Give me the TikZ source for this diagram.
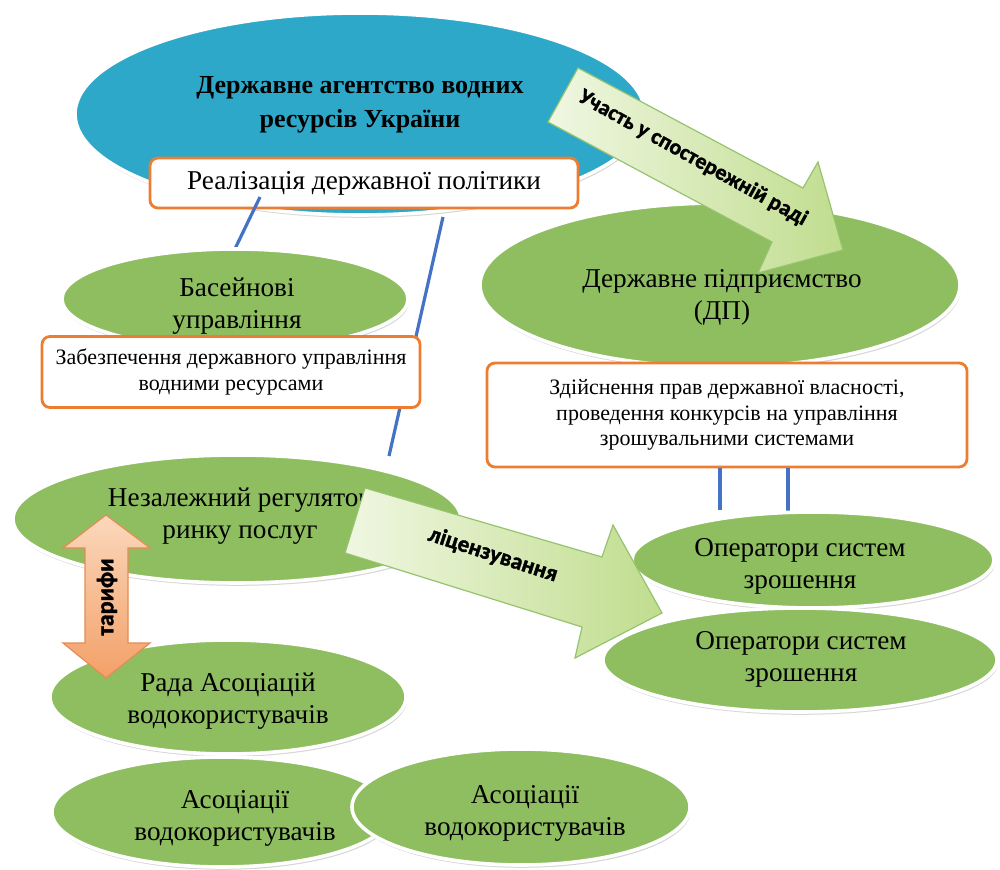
\documentclass[tikz,border=0pt]{standalone}
\usepackage{fontspec}
\setmainfont{Liberation Serif}
\newfontfamily\arrfont{Carlito}[BoldFeatures={FakeBold=1.6}]
\usetikzlibrary{shapes.geometric,shadows}
\definecolor{agblue}{RGB}{46,168,201}
\definecolor{grn}{RGB}{142,190,96}
\definecolor{orng}{RGB}{237,125,49}
\definecolor{lnblue}{RGB}{68,114,196}
\definecolor{arrL}{RGB}{240,247,226}
\definecolor{arrR}{RGB}{192,221,142}
\definecolor{arrD}{RGB}{150,195,110}
\definecolor{tarL}{RGB}{251,216,188}
\definecolor{tarR}{RGB}{243,160,104}
\definecolor{tarD}{RGB}{228,140,85}
\begin{document}
\begin{tikzpicture}[x=0.5pt,y=-0.5pt,
 ell/.style={ellipse, draw=white, line width=1.8pt, fill=grn, inner sep=0pt,
   drop shadow={shadow xshift=0.5pt, shadow yshift=-1.4pt, opacity=0.4, fill=black!40}},
 obox/.style={rectangle, rounded corners=4pt, draw=orng, line width=1.4pt, fill=white, inner sep=0pt},
 big/.style={font=\fontsize{13.6}{16}\selectfont, align=center, inner sep=0pt},
 small/.style={font=\fontsize{11}{12.8}\selectfont, align=center},
 arrtxt/.style={font=\arrfont\bfseries\fontsize{11}{13}\selectfont, inner sep=0pt},
 conn/.style={draw=lnblue, line width=1.6pt},
 garrow/.style={draw=arrD, line width=0.6pt, left color=arrL, right color=arrR},
 tarrow/.style={draw=tarD, line width=0.6pt, top color=tarL, bottom color=tarR}
]
\fill[white] (0,0) rectangle (1000,870);
\useasboundingbox (0,0) rectangle (1000,870);

% top agency
\node[ell, fill=agblue, minimum width=285pt, minimum height=101pt] (agency) at (360,114) {};
\node[big, font=\bfseries\fontsize{13}{17}\selectfont] (agencyT) at (360,105) {Державне агентство водних\\ресурсів України};
\node[obox, big, minimum width=214pt, minimum height=25pt] (b1) at (364,183) {Реалізація державної політики};

% connectors from the policy box
\coordinate (l1a) at (260,197); \coordinate (l1b) at (232,255);
\coordinate (l2a) at (443,217); \coordinate (l2b) at (389,456);
\draw[conn] (l1a) -- (l1b);
\draw[conn] (l2a) -- (l2b);

% state enterprise
\node[ell, minimum width=240pt, minimum height=82pt] (dp) at (720,285) {};
\node[obox, small, minimum width=240pt, minimum height=52pt] (b3) at (727,415) {Здійснення прав державної власності,\\проведення конкурсів на управління\\зрошувальними системами};

% arrow: participation
\path[garrow] (578,68) -- (803,188) -- (818,162) -- (843,250) -- (758,273) -- (772,242) -- (548,122) -- cycle;
\node[arrtxt, rotate=-29] (a1t) at (693,158) {Участь у спостережній раді};
\node[big] (dpT) at (722,297) {Державне підприємство\\(ДП)};

% basin administrations
\node[ell, minimum width=173pt, minimum height=50pt] (bas) at (235,299) {};
\node[big] (basT) at (237,306) {Басейнові\\управління};
\node[obox, small, minimum width=189pt, minimum height=35.5pt] (b2) at (231,372) {Забезпечення державного управління\\водними ресурсами};

% regulator
\node[ell, minimum width=224pt, minimum height=64pt] (reg) at (237,519) {};
\node[big] (regT) at (240,516) {Незалежний регулятор\\ринку послуг};

% operators
\coordinate (l3a) at (720,468); \coordinate (l3b) at (720,510);
\coordinate (l4a) at (788,468); \coordinate (l4b) at (788,513);
\draw[conn] (l3a) -- (l3b);
\draw[conn] (l4a) -- (l4b);
\node[ell, minimum width=181pt, minimum height=48pt] (op1) at (813,560) {};
\node[big] (op1T) at (800,566) {Оператори систем\\зрошення};
\node[ell, minimum width=197pt, minimum height=52pt] (op2) at (800,660) {};
\node[big] (op2T) at (801,659) {Оператори систем\\зрошення};

% associations
\node[ell, minimum width=178pt, minimum height=57pt] (rada) at (228,697) {};
\node[big] (radaT) at (228,701) {Рада Асоціацій\\водокористувачів};
\node[ell, minimum width=170pt, minimum height=55pt] (as1) at (222,812) {};
\node[big] (as1T) at (235,818) {Асоціації\\водокористувачів};
\node[ell, minimum width=169pt, minimum height=58pt] (as2) at (521,807) {};
\node[big] (as2T) at (525,813) {Асоціації\\водокористувачів};

% arrow: licensing
\path[garrow] (365,488) -- (602,557) -- (613,525) -- (662,613) -- (575,658) -- (582,627) -- (345,553) -- cycle;
\node[arrtxt, font=\arrfont\bfseries\fontsize{11.5}{13}\selectfont, rotate=-18] (a2t) at (493,555) {ліцензування};

% tariffs double arrow
\path[tarrow] (106,515) -- (150,548) -- (128,548) -- (128,643) -- (150,643) -- (106,678) -- (63,643) -- (85,643) -- (85,548) -- (63,548) -- cycle;
\node[arrtxt, font=\arrfont\bfseries\fontsize{12}{13}\selectfont, rotate=90] (tarT) at (107,597) {тарифи};
\end{tikzpicture}
\end{document}
